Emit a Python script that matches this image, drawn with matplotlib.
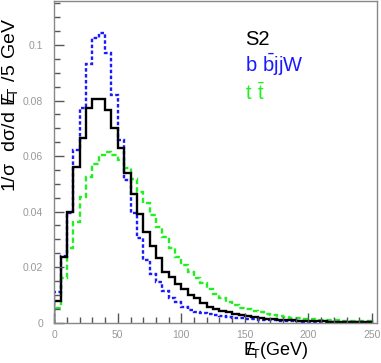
import numpy as np
import matplotlib
matplotlib.use("Agg")
import matplotlib.pyplot as plt

plt.rcParams['font.family'] = ['Liberation Sans', 'DejaVu Sans']
plt.rcParams['mathtext.default'] = 'regular'

# 5 GeV bins from 0 to 250 GeV
edges = np.arange(0, 255, 5)

# S2 signal
s2 = [0.0079, 0.0238, 0.0400, 0.0560, 0.0666, 0.0772, 0.0804, 0.0804, 0.0766, 0.0702,
      0.0628, 0.0538, 0.0462, 0.0391, 0.0328, 0.0277, 0.0232, 0.0184, 0.0166, 0.0138,
      0.0120, 0.0100, 0.0088, 0.0070, 0.0058, 0.0049, 0.0042, 0.0037, 0.0031, 0.0027,
      0.0023, 0.0020, 0.0017, 0.0014, 0.0012, 0.0010, 0.0009, 0.0008, 0.0007, 0.0007,
      0.0006, 0.0005, 0.0005, 0.0004, 0.0004, 0.0003, 0.0003, 0.0003, 0.0002, 0.0002]

# b bbar jjW background
bbjjw = [0.0112, 0.0240, 0.0394, 0.0622, 0.0774, 0.0930, 0.1024, 0.1044, 0.0972, 0.0820,
         0.0658, 0.0514, 0.0394, 0.0304, 0.0226, 0.0175, 0.0145, 0.0113, 0.0088, 0.0074,
         0.0056, 0.0046, 0.0040, 0.0034, 0.0030, 0.0027, 0.0024, 0.0021, 0.0018, 0.0016,
         0.0013, 0.0012, 0.0010, 0.0009, 0.0008, 0.0007, 0.0006, 0.0005, 0.0005, 0.0004,
         0.0004, 0.0003, 0.0003, 0.0003, 0.0002, 0.0002, 0.0002, 0.0001, 0.0001, 0.0001]

# t tbar background
ttbar = [0.0052, 0.0160, 0.0268, 0.0364, 0.0454, 0.0523, 0.0572, 0.0604, 0.0616, 0.0604,
         0.0586, 0.0556, 0.0516, 0.0472, 0.0432, 0.0388, 0.0346, 0.0307, 0.0268, 0.0238,
         0.0208, 0.0184, 0.0160, 0.0142, 0.0120, 0.0103, 0.0088, 0.0073, 0.0064, 0.0054,
         0.0048, 0.0042, 0.0037, 0.0031, 0.0026, 0.0023, 0.0020, 0.0018, 0.0016, 0.0014,
         0.0013, 0.0011, 0.0010, 0.0009, 0.0008, 0.0007, 0.0007, 0.0006, 0.0005, 0.0005]

fig = plt.figure(figsize=(3.81, 3.63), dpi=100)
ax = fig.add_axes([0.1425, 0.111, 0.847, 0.886])

ax.stairs(ttbar, edges, color='#22ee22', lw=1.7, linestyle=(0, (2.2, 1.3)))
ax.stairs(bbjjw, edges, color='#1a1aff', lw=1.7, linestyle=(0, (1.5, 1.0)))
ax.stairs(s2, edges, color='black', lw=1.7)

ax.set_xlim(0, 254)
ax.set_ylim(0, 0.1158)
ax.set_xticks([0, 50, 100, 150, 200, 250])
ax.set_xticks(np.arange(0, 251, 10), minor=True)
ax.set_yticks([0, 0.02, 0.04, 0.06, 0.08, 0.1])
ax.set_yticklabels(['0', '0.02', '0.04', '0.06', '0.08', '0.1'])
ax.set_yticks(np.arange(0, 0.116, 0.005), minor=True)

ax.tick_params(which='both', direction='in', colors='#555555', labelcolor='#999999',
               labelsize=7.5)
ax.tick_params(which='major', length=7, width=1)
ax.tick_params(which='minor', length=4, width=1)
ax.tick_params(axis='y', pad=8)
ax.tick_params(axis='x', pad=5)
for sp in ax.spines.values():
    sp.set_color('#888888')
    sp.set_linewidth(1)

ax.set_ylabel(r'$1/\sigma\ \ d\sigma/d\ E\!\!\!/_T\ /5\ GeV$', fontsize=14)
ax.yaxis.set_label_coords(-0.105, 0.677)
ax.set_xlabel(r'$E\!\!\!/_T(GeV)$', fontsize=13)
ax.xaxis.set_label_coords(0.687, -0.055)

ax.text(150, 0.1000, 'S2', color='black', fontsize=14.5)
ax.text(150, 0.0904, r'$b\ \bar{b}jjW$', color='#1a1aff', fontsize=14.5)
ax.text(150, 0.0802, r'$t\ \bar{t}$', color='#22ee22', fontsize=14.5)

fig.savefig('out.png', dpi=100)
